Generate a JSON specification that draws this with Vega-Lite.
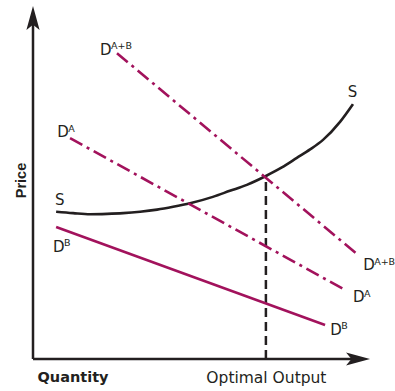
{
  "$schema": "https://vega.github.io/schema/vega-lite/v6.json",
  "width": 340,
  "height": 354,
  "autosize": {"type": "none"},
  "padding": {"left": 33, "top": 5, "right": 22, "bottom": 32},
  "background": "white",
  "config": {"view": {"stroke": null}},
  "datasets": {
    "axisLines": [
      {"q": 0, "p": 0, "q2": 95.6, "p2": 0},
      {"q": 0, "p": 0, "q2": 0, "p2": 96.3}
    ],
    "xArrow": [{"q": 95.6, "p": 0}],
    "yArrow": [{"q": 0, "p": 96.3}],
    "demandDashed": [
      {"series": "DA+B", "q": 24.7, "p": 86.4},
      {"series": "DA+B", "q": 95.6, "p": 29.4},
      {"series": "DA", "q": 10.9, "p": 62.4},
      {"series": "DA", "q": 91.8, "p": 19.5}
    ],
    "demandB": [
      {"q": 6.8, "p": 37.3},
      {"q": 85.9, "p": 9.6}
    ],
    "supply": [
      {"q": 6.8, "p": 41.6},
      {"q": 11.8, "p": 41.2},
      {"q": 16.8, "p": 40.9},
      {"q": 21.8, "p": 41.0},
      {"q": 26.5, "p": 41.2},
      {"q": 31.5, "p": 41.6},
      {"q": 36.5, "p": 42.2},
      {"q": 41.2, "p": 43.0},
      {"q": 46.2, "p": 44.0},
      {"q": 52.9, "p": 45.8},
      {"q": 57.9, "p": 47.5},
      {"q": 62.9, "p": 49.2},
      {"q": 68.5, "p": 51.7},
      {"q": 73.2, "p": 54.1},
      {"q": 77.6, "p": 56.8},
      {"q": 81.5, "p": 59.2},
      {"q": 85.3, "p": 61.9},
      {"q": 90.3, "p": 67.0},
      {"q": 94.1, "p": 72.0}
    ],
    "optimal": [{"q": 68.5, "p": 0, "p2": 51.7}],
    "labels": [
      {"q": 19.7, "p": 85.9, "base": "D", "sup": "A+B"},
      {"q": 7.1, "p": 62.7, "base": "D", "sup": "A"},
      {"q": 6.5, "p": 43.5, "base": "S", "sup": ""},
      {"q": 5.9, "p": 30.3, "base": "D", "sup": "B"},
      {"q": 97.1, "p": 25.1, "base": "D", "sup": "A+B"},
      {"q": 94.1, "p": 16.1, "base": "D", "sup": "A"},
      {"q": 87.4, "p": 6.8, "base": "D", "sup": "B"},
      {"q": 92.6, "p": 74.0, "base": "S", "sup": ""}
    ]
  },
  "encoding": {
    "x": {
      "field": "q",
      "type": "quantitative",
      "scale": {"domain": [0, 100], "nice": false, "zero": false},
      "axis": {
        "orient": "bottom",
        "values": [68.5],
        "labelExpr": "'Optimal Output'",
        "domain": false,
        "ticks": false,
        "grid": false,
        "labelFont": "DejaVu Sans",
        "labelFontSize": 15.5,
        "labelColor": "#231f20",
        "labelPadding": 11,
        "labelDx": 5,
        "title": "Quantity",
        "titleFont": "DejaVu Sans",
        "titleFontSize": 14.5,
        "titleFontWeight": "bold",
        "titleColor": "#231f20",
        "titleAnchor": "start",
        "titleAlign": "left",
        "titleBaseline": "alphabetic",
        "titleX": 4,
        "titleY": 22
      }
    },
    "y": {
      "field": "p",
      "type": "quantitative",
      "scale": {"domain": [0, 100], "nice": false, "zero": false},
      "axis": {
        "orient": "left",
        "labels": false,
        "domain": false,
        "ticks": false,
        "grid": false,
        "title": "Price",
        "titleFont": "Liberation Sans",
        "titleFontSize": 14.5,
        "titleFontWeight": "bold",
        "titleColor": "#231f20",
        "titleAngle": -90,
        "titleAlign": "center",
        "titleBaseline": "middle",
        "titleX": -12,
        "titleY": 175
      }
    }
  },
  "layer": [
    {
      "data": {"name": "axisLines"},
      "mark": {"type": "rule", "color": "#231f20", "strokeWidth": 2.5},
      "encoding": {"x2": {"field": "q2"}, "y2": {"field": "p2"}}
    },
    {
      "data": {"name": "xArrow"},
      "mark": {"type": "point", "shape": "M-1,-0.55L1,0L-1,0.55L-0.55,0Z", "size": 576, "filled": true, "color": "#231f20", "opacity": 1, "angle": 0}
    },
    {
      "data": {"name": "yArrow"},
      "mark": {"type": "point", "shape": "M-1,-0.55L1,0L-1,0.55L-0.55,0Z", "size": 576, "filled": true, "color": "#231f20", "opacity": 1, "angle": -90}
    },
    {
      "data": {"name": "optimal"},
      "mark": {"type": "rule", "color": "#231f20", "strokeWidth": 2.5, "strokeDash": [9, 5]},
      "encoding": {"y2": {"field": "p2"}}
    },
    {
      "data": {"name": "supply"},
      "mark": {"type": "line", "color": "#231f20", "strokeWidth": 2.6, "interpolate": "monotone"}
    },
    {
      "data": {"name": "demandB"},
      "mark": {"type": "line", "color": "#a2125c", "strokeWidth": 2.6}
    },
    {
      "data": {"name": "demandDashed"},
      "mark": {"type": "line", "color": "#a2125c", "strokeWidth": 2.6, "strokeDash": [14, 5, 3, 5]},
      "encoding": {"detail": {"field": "series"}}
    },
    {
      "data": {"name": "labels"},
      "mark": {"type": "text", "font": "DejaVu Sans", "fontSize": 15, "color": "#231f20", "align": "left", "baseline": "alphabetic"},
      "encoding": {"text": {"field": "base"}}
    },
    {
      "data": {"name": "labels"},
      "mark": {"type": "text", "font": "DejaVu Sans", "fontSize": 9.5, "color": "#231f20", "align": "left", "baseline": "alphabetic", "dx": 11, "dy": -5.5},
      "encoding": {"text": {"field": "sup"}}
    }
  ]
}
